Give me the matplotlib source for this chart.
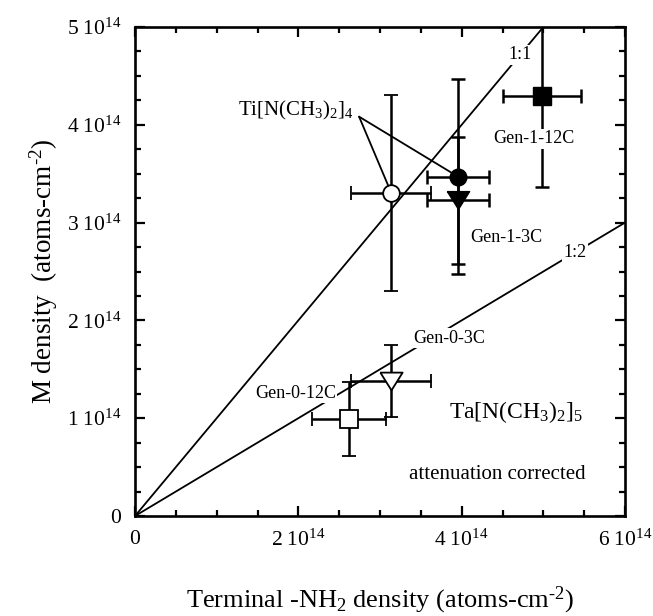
import matplotlib
matplotlib.use('Agg')
import matplotlib.pyplot as plt
from matplotlib.ticker import MultipleLocator, FixedLocator
import numpy as np

plt.rcParams['font.family'] = ['Liberation Serif', 'DejaVu Serif']
plt.rcParams['mathtext.fontset'] = 'custom'
plt.rcParams['mathtext.rm'] = 'Liberation Serif'
plt.rcParams['mathtext.it'] = 'Liberation Serif:italic'
plt.rcParams['mathtext.bf'] = 'Liberation Serif:bold'

E = 1e14

# 数据 (单位 1e14 atoms/cm^2)
ti_x = [3.14, 3.955]          # 空心圆, 实心圆
ti_y = [3.30, 3.47]
ti_xerr = [0.49, 0.38]
ti_yerr = [1.00, 1.00]

g1_3c = dict(x=3.955, y=3.23, xerr=0.38, yerr=0.65)   # 实心倒三角
g1_12c = dict(x=4.98, y=4.29, xerr=0.48, yerr=0.93)   # 实心方块
g0_3c = dict(x=3.14, y=1.38, xerr=0.49, yerr=0.37)    # 空心倒三角
g0_12c = dict(x=2.62, y=0.99, xerr=0.45, yerr=0.38)   # 空心方块

ref_x = [0, 6]
ratios = [1.0, 0.5]

xticks = [0, 2, 4, 6]
yticks = [0, 1, 2, 3, 4, 5]


def tick_label(v):
    if v == 0:
        return '0'
    return r'$\mathregular{%d\ 10^{14}}$' % v


fig = plt.figure(figsize=(6.53, 6.16), dpi=100)
ax = fig.add_axes([135 / 653, 1 - 516 / 616, 490 / 653, 489 / 616])

# 1:1 和 1:2 参考线
for r in ratios:
    xs = np.array(ref_x) * E
    ax.plot(xs, xs * r, color='k', lw=1.3, zorder=1)

tri = [(-1, 0.8), (1, 0.8), (0, -0.8), (-1, 0.8)]
eb = dict(ecolor='k', elinewidth=1.8, capsize=5, capthick=1.8, ls='none', zorder=2)

ax.errorbar(ti_x[0] * E, ti_y[0] * E, xerr=ti_xerr[0] * E, yerr=ti_yerr[0] * E,
            marker='o', ms=12, mfc='white', mec='k', mew=1.3, **eb)
ax.errorbar(ti_x[1] * E, ti_y[1] * E, xerr=ti_xerr[1] * E, yerr=ti_yerr[1] * E,
            marker='o', ms=12, mfc='k', mec='k', **eb)
ax.errorbar(g1_3c['x'] * E, g1_3c['y'] * E, xerr=g1_3c['xerr'] * E, yerr=g1_3c['yerr'] * E,
            marker=tri, ms=16, mfc='k', mec='k', **eb)
ax.errorbar(g1_12c['x'] * E, g1_12c['y'] * E, xerr=g1_12c['xerr'] * E, yerr=g1_12c['yerr'] * E,
            marker='s', ms=13, mfc='k', mec='k', **eb)
ax.errorbar(g0_3c['x'] * E, g0_3c['y'] * E, xerr=g0_3c['xerr'] * E, yerr=g0_3c['yerr'] * E,
            marker=tri, ms=16, mfc='white', mec='k', mew=1.3, **eb)
ax.errorbar(g0_12c['x'] * E, g0_12c['y'] * E, xerr=g0_12c['xerr'] * E, yerr=g0_12c['yerr'] * E,
            marker='s', ms=13, mfc='white', mec='k', mew=1.3, **eb)

# 标注
wb = dict(facecolor='white', edgecolor='none', pad=1.0)
ax.text(4.72 * E, 4.67 * E, '1:1', fontsize=13, ha='center', va='baseline', bbox=wb, zorder=5)
ax.text(5.39 * E, 2.65 * E, '1:2', fontsize=13, ha='center', va='baseline', bbox=wb, zorder=5)
ax.text(4.89 * E, 3.81 * E, 'Gen-1-12C', fontsize=13, ha='center', va='baseline', bbox=wb, zorder=5)
ax.text(4.55 * E, 2.80 * E, 'Gen-1-3C', fontsize=13, ha='center', va='baseline', bbox=wb, zorder=5)
ax.text(3.85 * E, 1.77 * E, 'Gen-0-3C', fontsize=13, ha='center', va='baseline', bbox=wb, zorder=5)
ax.text(1.963 * E, 1.21 * E, 'Gen-0-12C', fontsize=13, ha='center', va='baseline', bbox=wb, zorder=5)
ax.text(1.97 * E, 4.10 * E, r'Ti[N(CH$_3$)$_2$]$_4$', fontsize=15, ha='center', va='baseline', zorder=5)
ax.text(4.665 * E, 1.00 * E, r'Ta[N(CH$_3$)$_2$]$_5$', fontsize=17, ha='center', va='baseline', zorder=5)
ax.text(4.435 * E, 0.378 * E, 'attenuation corrected', fontsize=15, ha='center', va='baseline', zorder=5)

# Ti 标签的指示线
anchor = (2.744 * E, 4.083 * E)
for px, py in zip(ti_x, ti_y):
    ax.annotate('', xy=(px * E, py * E), xytext=anchor,
                arrowprops=dict(arrowstyle='-', lw=1.3, color='k', shrinkA=0, shrinkB=6))

ax.set_xlim(0, 6 * E)
ax.set_ylim(0, 5 * E)
ax.xaxis.set_major_locator(FixedLocator([v * E for v in xticks]))
ax.yaxis.set_major_locator(FixedLocator([v * E for v in yticks]))
ax.set_xticklabels([tick_label(v) for v in xticks])
ax.set_yticklabels([tick_label(v) for v in yticks])
ax.xaxis.set_minor_locator(MultipleLocator(0.5 * E))
ax.yaxis.set_minor_locator(MultipleLocator(0.25 * E))
ax.tick_params(which='both', direction='in', top=True, right=True, width=1.6, labelsize=15.5)
ax.tick_params(which='major', length=7, pad=10)
ax.tick_params(which='minor', length=4)
for s in ax.spines.values():
    s.set_linewidth(1.9)

ax.set_xlabel(r'Terminal -NH$_2$ density (atoms-cm$^{\text{-2}}$)', fontsize=19, labelpad=24)
ax.set_ylabel(r'M density  (atoms-cm$^{\text{-2}}$)', fontsize=19.5, labelpad=5)

fig.savefig('out.png', dpi=100)
